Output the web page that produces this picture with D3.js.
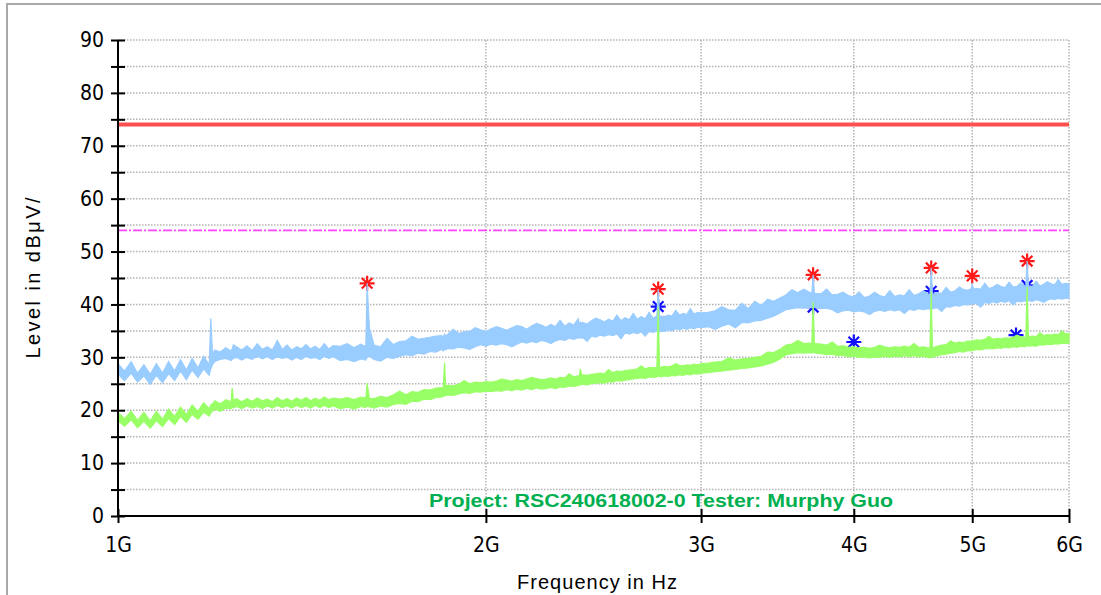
<html>
<head>
<meta charset="UTF-8">
<script src="https://d3js.org/d3.v7.min.js"></script>
<style>
body { margin: 0; background: #fff; }
svg { display: block; }
</style>
</head>
<body>
<svg id="chart" width="1101" height="595"></svg>
<script>
// barrido del receptor: [MHz, nivel bajo, nivel alto] de la banda de ruido
const peakTrace = [
  [1000,26.8,28.8],[1012.5,25.6,27.4],[1025,27.0,29.2],[1037.5,25.3,27.0],[1050,26.5,28.6],[1062.5,24.9,26.8],
  [1075,26.6,28.8],[1087.5,25.2,27.0],[1100,26.9,29.2],[1112.5,25.6,27.4],[1125,27.4,29.6],[1137.5,25.8,27.6],
  [1150,27.6,29.8],[1162.5,26.2,28.0],[1175,27.8,30.2],[1187.5,26.6,28.6],[1191,27.8,37.4],[1195,28.6,30.6],
  [1200,29.2,31.4],[1212.5,29.6,31.0],[1225,29.8,31.8],[1237.5,29.4,31.2],[1240,29.6,31.6],[1243,29.8,32.4],
  [1250,30.0,32.0],[1262.5,29.5,31.4],[1275,30.0,32.2],[1287.5,29.6,31.3],[1300,30.2,32.6],[1312.5,29.7,31.5],
  [1325,30.1,32.0],[1337.5,29.6,31.4],[1350,30.1,33.2],[1362.5,29.8,31.5],[1375,30.0,32.3],[1387.5,29.5,31.4],
  [1400,30.0,32.0],[1412.5,29.6,31.6],[1425,30.2,32.4],[1437.5,29.8,31.6],[1450,30.0,32.1],[1462.5,29.6,31.5],
  [1475,30.2,32.6],[1487.5,29.8,31.6],[1500,30.1,32.2],
  [1520,29.4,32.1],[1540,29.6,32.6],[1560,29.2,31.8],[1580,29.7,32.5],[1595,29.5,32.0],[1599,30.0,44.0],
  [1606,30.2,35.5],[1620,29.6,32.3],[1640,29.3,32.0],[1660,30.0,33.6],[1680,29.8,32.4],[1700,30.2,33.0],
  [1720,30.5,33.1],[1740,30.3,34.0],[1760,30.8,33.4],[1780,30.6,33.6],[1800,31.1,33.8],[1820,31.0,34.0],
  [1840,31.5,34.1],[1846,31.2,33.8],[1850,31.6,34.4],[1854,31.4,34.0],[1860,31.7,34.3],[1880,31.6,35.3],
  [1900,31.9,34.5],[1920,31.8,34.8],[1940,31.5,34.9],[1960,32.0,35.6],[1980,32.4,35.2],[2000,32.1,34.9],
  [2020,32.5,35.4],[2040,32.3,35.8],[2060,32.6,35.5],[2080,32.4,35.1],[2100,32.0,35.6],[2120,32.5,36.0],
  [2140,32.9,35.8],[2160,32.7,35.3],[2180,33.0,35.9],[2200,32.8,36.4],[2220,33.2,36.1],[2240,33.0,35.7],
  [2260,32.6,36.2],[2280,33.1,35.8],[2300,33.4,37.0],[2320,33.2,35.9],[2340,33.6,36.5],[2360,33.4,36.1],
  [2380,33.7,37.3],[2384,33.6,36.2],[2390,33.8,36.7],[2396,33.6,36.3],[2400,33.8,36.6],[2420,33.0,36.3],
  [2440,34.0,36.9],[2460,33.8,37.4],[2480,34.2,37.1],[2500,34.0,36.7],[2520,34.3,37.2],[2540,34.1,36.8],
  [2560,34.4,38.0],[2580,33.5,36.9],[2600,34.6,37.5],[2620,34.4,37.1],[2640,34.7,38.3],[2660,34.5,37.2],
  [2680,34.8,37.7],[2700,34.0,37.3],[2720,34.9,38.5],[2740,34.7,37.4],[2760,35.0,37.8],[2767,35.2,42.9],
  [2774,34.8,37.6],[2780,35.0,37.8],[2800,34.9,37.7],[2820,35.2,38.0],[2840,35.0,37.8],[2860,35.4,38.9],
  [2880,35.2,38.0],[2900,35.5,38.3],[2920,35.3,38.1],[2940,35.6,39.2],[2960,35.4,38.2],[2980,35.7,38.5],
  [3000,35.6,38.4],
  [3040,35.8,38.5],[3080,35.3,38.8],[3120,35.9,39.6],[3160,36.3,39.0],[3200,35.6,38.9],[3240,36.6,40.2],
  [3280,36.5,39.2],[3320,36.9,40.6],[3360,37.0,39.8],[3400,37.4,41.0],[3440,37.8,40.6],[3480,38.4,41.2],
  [3520,39.0,41.8],[3560,39.2,42.8],[3600,39.4,42.2],[3640,39.3,42.9],[3680,39.5,42.3],[3696,39.4,42.1],
  [3705,39.6,45.6],[3714,39.5,42.2],[3720,39.4,42.1],[3760,39.2,42.0],[3800,39.3,42.9],[3840,39.0,41.8],
  [3880,38.4,41.9],[3920,38.8,42.3],[3960,38.9,41.7],[4000,38.6,41.4],[4040,38.8,42.4],[4080,38.6,41.3],
  [4120,38.1,41.6],[4160,38.7,42.3],[4200,38.9,41.7],[4240,38.7,41.4],[4280,39.0,42.6],[4320,38.8,41.5],
  [4360,39.0,41.8],[4400,38.3,41.6],[4440,39.1,42.8],[4480,38.9,41.7],[4520,39.2,42.0],[4560,39.0,42.6],
  [4600,39.2,42.0],[4617,39.1,41.8],[4628,39.3,46.9],[4639,39.2,41.9],[4680,39.4,42.2],[4720,38.7,42.1],
  [4760,39.6,43.2],[4800,39.5,42.3],[4840,39.8,42.6],[4880,39.7,43.3],[4920,40.0,42.8],[4960,39.9,42.7],
  [4988,40.1,42.9],[5000,40.2,43.8],[5012,40.1,42.9],[5040,40.2,43.0],[5080,39.5,42.9],[5120,40.4,44.0],
  [5160,40.2,43.0],[5200,40.5,43.3],[5240,40.3,43.8],[5280,40.6,43.4],[5320,40.4,43.2],[5360,40.7,44.2],
  [5400,39.9,43.3],[5440,40.6,43.4],[5480,40.5,44.1],[5520,40.7,43.5],[5531,40.6,43.4],[5545,40.8,48.2],
  [5559,40.7,43.5],[5600,40.6,43.4],[5640,40.9,44.4],[5680,40.7,43.5],[5720,40.4,43.8],[5760,40.8,44.3],
  [5800,41.1,43.9],[5840,40.9,43.7],[5880,41.2,44.7],[5920,41.0,43.8],[5960,41.2,44.0],[6000,41.1,43.9]
];

const avgTrace = [
  [1000,18.0,19.6],[1012.5,17.0,18.4],[1025,18.2,19.8],[1037.5,16.7,18.1],[1050,17.9,19.6],[1062.5,16.6,18.0],
  [1075,18.0,19.8],[1087.5,16.9,18.3],[1100,18.4,20.2],[1112.5,17.3,18.8],[1125,18.8,20.6],[1137.5,17.7,19.2],
  [1150,19.2,21.0],[1162.5,18.3,19.8],[1175,19.6,21.4],[1187.5,18.9,20.3],[1191,19.5,21.0],[1195,19.8,21.2],
  [1200,20.2,21.8],[1212.5,19.8,21.2],[1225,20.4,22.0],[1237.5,20.3,21.6],[1240,20.6,24.2],[1243,20.4,21.9],
  [1250,20.7,22.2],[1262.5,20.3,21.6],[1275,20.8,22.2],[1287.5,20.4,21.7],[1300,20.7,22.3],[1312.5,20.3,21.8],
  [1325,20.8,22.1],[1337.5,20.4,21.6],[1350,20.9,22.4],[1362.5,20.5,21.8],[1375,20.8,22.2],[1387.5,20.4,21.7],
  [1400,20.9,22.3],[1412.5,20.5,21.9],[1425,20.8,22.4],[1437.5,20.4,21.8],[1450,20.9,22.3],[1462.5,20.5,21.9],
  [1475,20.9,22.5],[1487.5,20.5,22.0],[1500,20.8,22.3],
  [1520,20.3,22.1],[1540,20.6,22.4],[1560,20.2,22.0],[1580,20.7,22.5],[1595,20.5,22.3],[1599,20.8,25.1],
  [1606,20.6,22.2],[1620,20.4,22.2],[1640,20.8,22.6],[1660,20.6,22.4],[1680,21.1,22.9],[1700,21.3,23.6],
  [1720,21.1,22.9],[1740,21.7,23.5],[1760,21.6,23.4],[1780,22.1,23.9],[1800,22.0,23.8],[1820,22.4,24.2],
  [1840,22.5,24.3],[1846,22.6,24.4],[1850,22.8,29.0],[1854,22.7,24.5],[1860,22.9,24.7],[1880,22.8,24.6],
  [1900,23.1,24.9],[1920,23.3,25.6],[1940,23.2,25.0],[1960,23.5,25.3],[1980,23.4,25.2],[2000,23.6,25.4],
  [2020,23.5,25.3],[2040,23.7,25.5],[2060,23.6,25.9],[2080,23.9,25.7],[2100,23.7,25.5],[2120,24.0,25.8],
  [2140,23.8,25.6],[2160,24.1,25.9],[2180,23.9,26.2],[2200,24.2,26.0],[2220,24.0,25.8],[2240,24.1,25.9],
  [2260,24.3,26.1],[2280,24.1,25.9],[2300,24.4,26.2],[2320,24.3,26.1],[2340,24.6,26.9],[2360,24.5,26.3],
  [2380,24.7,26.5],[2384,24.7,26.4],[2390,24.9,27.8],[2396,24.8,26.6],[2400,24.9,26.7],[2420,24.8,26.6],
  [2440,25.0,26.8],[2460,25.1,26.9],[2480,25.2,27.0],[2500,25.1,26.9],[2520,25.4,27.7],[2540,25.3,27.1],
  [2560,25.6,27.4],[2580,25.5,27.3],[2600,25.7,27.5],[2620,25.8,27.6],[2640,25.9,27.7],[2660,26.0,27.8],
  [2680,26.1,28.4],[2700,26.0,27.8],[2720,26.3,28.1],[2740,26.2,28.0],[2760,26.3,28.1],[2767,26.5,39.6],
  [2774,26.4,28.2],[2780,26.3,28.1],[2800,26.5,28.3],[2820,26.4,28.2],[2840,26.6,28.4],[2860,26.5,28.8],
  [2880,26.7,28.5],[2900,26.6,28.4],[2920,26.8,28.6],[2940,26.7,28.5],[2960,26.9,28.7],[2980,26.8,28.6],
  [3000,27.0,28.8],
  [3040,27.1,28.9],[3080,27.3,29.1],[3120,27.4,29.2],[3160,27.6,29.9],[3200,27.7,29.5],[3240,27.9,29.7],
  [3280,28.0,29.8],[3320,28.2,30.0],[3360,28.4,30.2],[3400,28.7,31.0],[3440,29.1,30.9],[3480,29.7,31.5],
  [3520,30.5,32.3],[3560,30.7,32.5],[3600,30.9,33.2],[3640,30.8,32.6],[3680,30.9,32.7],[3696,30.8,32.6],
  [3705,31.0,40.5],[3714,30.9,32.7],[3720,30.8,32.6],[3760,30.7,32.5],[3800,30.5,32.3],[3840,30.6,32.9],
  [3880,30.3,32.1],[3920,30.4,32.2],[3960,30.1,31.9],[4000,30.2,32.0],[4040,30.0,31.8],[4080,30.1,31.9],
  [4120,29.9,31.7],[4160,30.1,31.9],[4200,30.0,32.3],[4240,30.2,32.0],[4280,30.0,31.8],[4320,30.2,32.0],
  [4360,30.1,31.9],[4400,30.3,32.1],[4440,30.1,31.9],[4480,30.3,32.6],[4520,30.1,31.9],[4560,30.2,32.0],
  [4600,30.0,31.8],[4617,29.9,31.7],[4628,30.1,42.5],[4639,30.0,31.8],[4680,30.3,32.1],[4720,30.5,32.3],
  [4760,30.6,32.4],[4800,30.8,33.1],[4840,30.9,32.7],[4880,31.1,32.9],[4920,31.0,32.8],[4960,31.3,33.1],
  [4988,31.2,33.0],[5000,31.4,33.2],[5012,31.3,33.1],[5040,31.5,33.3],[5080,31.4,33.2],[5120,31.6,33.4],
  [5160,31.7,34.0],[5200,31.6,33.4],[5240,31.8,33.6],[5280,31.7,33.5],[5320,31.9,33.7],[5360,31.8,33.6],
  [5400,32.0,33.8],[5440,31.9,34.2],[5480,32.1,33.9],[5520,32.0,33.8],[5531,32.1,33.9],[5545,32.2,43.3],
  [5559,32.1,33.9],[5600,32.2,34.0],[5640,32.1,33.9],[5680,32.4,34.7],[5720,32.3,34.1],[5760,32.5,34.3],
  [5800,32.4,34.2],[5840,32.6,34.4],[5880,32.5,34.3],[5920,32.7,35.0],[5960,32.6,34.4],[6000,32.7,34.5]
];

// marcadores de pico (rojo) y promedio (azul): [MHz, dBuV]
const peakMarks = [[1599,44.0],[2767,42.9],[3705,45.6],[4628,46.9],[5000,45.4],[5545,48.2]];
const avgMarks  = [[2767,39.6],[3705,39.5],[4000,32.9],[4628,42.5],[5430,34.2],[5545,43.6]];

// limites
const limitPeak = 74;
const limitAvg = 54;

const freqTicks = [1000, 2000, 3000, 4000, 5000, 6000];
const levelTicks = [0,5,10,15,20,25,30,35,40,45,50,55,60,65,70,75,80,85,90];
const projectText = "Project: RSC240618002-0 Tester: Murphy Guo";

function draw() {
  var svg = d3.select("#chart");
  var x0 = 118, x1 = 1069, y0 = 40, y1 = 516;

  var x = d3.scaleLog().domain([1000, 6000]).range([x0, x1]);
  var y = d3.scaleLinear().domain([0, 90]).range([y1, y0]);

  // marco exterior
  svg.append("rect")
    .attr("x", 7).attr("y", 4).attr("width", 1110).attr("height", 610)
    .attr("fill", "none").attr("stroke", "#a8a8a8").attr("stroke-width", 2);

  // rejilla punteada
  var grid = svg.append("g").attr("stroke", "#b4b4b4").attr("stroke-width", 1.5)
    .attr("stroke-dasharray", "1.5,1.5");
  grid.selectAll(".h").data(levelTicks.filter(d => d > 0)).enter().append("line")
    .attr("x1", x0).attr("x2", x1)
    .attr("y1", d => y(d)).attr("y2", d => y(d));
  grid.selectAll(".v").data(freqTicks.slice(1)).enter().append("line")
    .attr("x1", d => x(d)).attr("x2", d => x(d))
    .attr("y1", y0).attr("y2", y1);

  // lineas limite
  svg.append("line")
    .attr("x1", x0).attr("x2", x1)
    .attr("y1", y(limitPeak)).attr("y2", y(limitPeak))
    .attr("stroke", "#ff4f4f").attr("stroke-width", 4);
  svg.append("line")
    .attr("x1", x0).attr("x2", x1)
    .attr("y1", y(limitAvg)).attr("y2", y(limitAvg))
    .attr("stroke", "#ff44ff").attr("stroke-width", 1.6)
    .attr("stroke-dasharray", "9,2,2,2");

  // asterisco de 8 brazos
  function star(r) {
    var p = "";
    [0, 45, 90, 135].forEach(function(a) {
      var t = a * Math.PI / 180, dx = r * Math.cos(t), dy = r * Math.sin(t);
      p += "M" + (-dx) + "," + (-dy) + "L" + dx + "," + dy;
    });
    return p;
  }

  svg.selectAll(".pm").data(peakMarks).enter().append("path")
    .attr("d", star(7.5))
    .attr("transform", d => `translate(${x(d[0])},${y(d[1])})`)
    .attr("stroke", "#ff1a1a").attr("stroke-width", 2.2).attr("fill", "none");
  svg.selectAll(".am").data(avgMarks).enter().append("path")
    .attr("d", star(7.5))
    .attr("transform", d => `translate(${x(d[0])},${y(d[1])})`)
    .attr("stroke", "#1010ff").attr("stroke-width", 2.2).attr("fill", "none");

  // trazas
  var band = d3.area()
    .x(d => x(d[0]))
    .y0(d => y(d[1]))
    .y1(d => y(d[2]));

  svg.append("path").datum(peakTrace)
    .attr("d", band)
    .attr("fill", "#99ccff").attr("stroke", "#99ccff").attr("stroke-width", 1.2);
  svg.append("path").datum(avgTrace)
    .attr("d", band)
    .attr("fill", "#99ff66").attr("stroke", "#99ff66").attr("stroke-width", 1.2);

  // ejes
  var tickFont = "'Liberation Sans Narrow','DejaVu Sans Condensed',sans-serif";

  var yAxis = svg.append("g")
    .attr("transform", `translate(${x0},0)`)
    .call(d3.axisLeft(y).tickValues(levelTicks).tickSize(7).tickPadding(7)
      .tickFormat(d => d % 10 === 0 ? d : ""));
  yAxis.selectAll("line").attr("x1", 7).attr("stroke", "#000").attr("stroke-width", 2);
  yAxis.select(".domain").attr("d", `M0,${y0}V${y1}`).attr("stroke", "#000").attr("stroke-width", 2);
  yAxis.selectAll("text").attr("font-family", tickFont).attr("font-size", 21).attr("fill", "#000");

  var xAxis = svg.append("g")
    .attr("transform", `translate(0,${y1})`)
    .call(d3.axisBottom(x).tickValues(freqTicks).tickSize(7).tickPadding(14)
      .tickFormat(d => (d / 1000) + "G"));
  xAxis.selectAll("line").attr("y1", -7).attr("stroke", "#000").attr("stroke-width", 2);
  xAxis.select(".domain").attr("d", `M${x0},0H${x1}`).attr("stroke", "#000").attr("stroke-width", 2);
  xAxis.selectAll("text").attr("font-family", tickFont).attr("font-size", 21).attr("fill", "#000");

  // titulos
  svg.append("text")
    .attr("transform", "translate(40,278) rotate(-90)")
    .attr("text-anchor", "middle")
    .attr("font-family", "'Liberation Sans',Arial,sans-serif")
    .attr("font-size", 20)
    .attr("textLength", 161).attr("lengthAdjust", "spacing")
    .text("Level in dBμV/");

  svg.append("text")
    .attr("x", 597).attr("y", 589)
    .attr("text-anchor", "middle")
    .attr("font-family", "'Liberation Sans',Arial,sans-serif")
    .attr("font-size", 20)
    .attr("textLength", 160).attr("lengthAdjust", "spacing")
    .text("Frequency in Hz");

  svg.append("text")
    .attr("x", 429).attr("y", 507)
    .attr("font-family", "'Liberation Sans',Arial,sans-serif")
    .attr("font-weight", "bold")
    .attr("font-size", 18)
    .attr("fill", "#00b050")
    .attr("textLength", 464).attr("lengthAdjust", "spacingAndGlyphs")
    .text(projectText);
}

draw();
</script>
</body>
</html>
